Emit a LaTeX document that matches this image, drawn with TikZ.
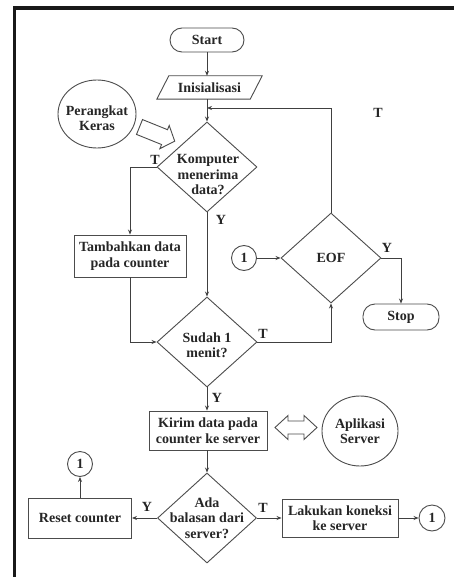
\documentclass[tikz,border=0pt]{standalone}
\usepackage{fontspec}
\setmainfont{Liberation Serif}
\usetikzlibrary{shapes.geometric,arrows.meta,calc}
\begin{document}
\begin{tikzpicture}[x=1pt,y=-1pt,
  every node/.style={font=\bfseries\fontsize{14}{15.5}\selectfont, text=black!85},
  ln/.style={draw=black!75, line width=0.8pt},
  arr/.style={ln,-{Stealth[length=5pt,width=4pt]}},
  shp/.style={draw=black!70, line width=0.9pt},
  box/.style={shp, rectangle, align=center, inner sep=0pt},
  term/.style={shp, rectangle, rounded corners=12pt, inner sep=0pt},
  dia/.style={shp, diamond, inner sep=0pt, minimum width=100pt, minimum height=90pt},
  ell/.style={shp, ellipse, inner sep=0pt},
  conn/.style={shp, circle, inner sep=0pt, minimum size=25pt},
  lbl/.style={inner sep=0pt},
  txt/.style={align=center, inner sep=0pt},
  fat/.style={shp, fill=white}]
\useasboundingbox[fill=white] (0,0) rectangle (454,577);
% frame
\draw[line width=3.5pt, black!90] (454,8) -- (14.5,8) -- (14.5,577);

% nodes
\node[term, minimum width=74pt, minimum height=24pt] (start) at (207,40) {Start};
\node[inner sep=0pt, minimum width=105pt, minimum height=23pt] (init) at (209.5,87.5) {Inisialisasi};
\draw[shp] ($(init.north west)+(12,0)$) -- (init.north east) -- ($(init.south east)+(-12,0)$) -- (init.south west) -- cycle;

\node[ell, minimum width=78pt, minimum height=68pt] (hw) at (97,114) {};
\node[txt] (hwt) at (97,118) {Perangkat\\Keras};

\node[dia] (komp) at (207,167) {};
\node[txt] (kompt) at (208,175) {Komputer\\menerima\\data?};

\node[box, minimum width=112pt, minimum height=42pt] (tamb) at (130,256) {Tambahkan data\\pada counter};

\node[dia] (sudah) at (207,342) {};
\node[txt] (sudaht) at (207,345) {Sudah 1\\menit?};

\node[dia] (eof) at (331,258) {EOF};
\node[conn] (c1) at (244,258) {1};
\node[term, minimum width=76pt, minimum height=26pt] (stop) at (401,317) {Stop};

\node[box, minimum width=118pt, minimum height=39pt] (kirim) at (208,430.5) {Kirim data pada\\counter ke server};
\node[ell, minimum width=76pt, minimum height=70pt] (apl) at (360,431) {};
\node[txt] (aplt) at (360,431) {Aplikasi\\Server};

\node[dia, minimum width=99pt] (ada) at (207,518) {};
\node[txt] (adat) at (207,518) {Ada\\balasan dari\\server?};

\node[box, minimum width=103pt, minimum height=40pt] (reset) at (80,518) {Reset counter};
\node[conn] (c2) at (80,464) {1};
\node[box, minimum width=116pt, minimum height=38pt] (lak) at (340,518) {Lakukan koneksi\\ke server};
\node[conn, minimum size=26pt] (c3) at (432,518) {1};

\coordinate (loopin) at (207,108);

% fat arrows
\begin{scope}[shift={(139.5,127)}, rotate=-22]
  \draw[fat] (0,-8) -- (27,-8) -- (27,-12.5) -- (38,0) -- (27,12.5) -- (27,8) -- (0,8) -- cycle;
\end{scope}
\draw[fat] (275,427.5) -- (288,415.5) -- (288,421) -- (304,421) -- (304,415.5) -- (317,427.5)
  -- (304,439.5) -- (304,434) -- (288,434) -- (288,439.5) -- cycle;

% connectors
\draw[arr] (start.south) -- (start.south |- init.north);
\draw[arr] (init.south -| komp.north) -- (komp.north);
\draw[arr] (eof.north) |- (loopin);
\draw[arr] (komp.west) -| (tamb.north);
\draw[arr] (komp.south) -- (sudah.north);
\draw[arr] (tamb.south) |- (sudah.west);
\draw[arr] (sudah.east) -| (eof.south);
\draw[arr] (c1) -- (eof.west);
\draw[arr] (eof.east) -| (stop.north);
\draw[arr] (sudah.south) -- (sudah.south |- kirim.north);
\draw[arr] (kirim.south -| ada.north) -- (ada.north);
\draw[arr] (ada.west) -- (reset.east);
\draw[arr] (reset.north) -- (c2.south);
\draw[arr] (ada.east) -- (lak.west);
\draw[arr] (lak.east) -- (c3.west);

% labels
\node[lbl] (l1) at (155,160) {T};
\node[lbl] (l2) at (378,113) {T};
\node[lbl] (l3) at (221,220) {Y};
\node[lbl] (l4) at (387,248) {Y};
\node[lbl] (l5) at (263,334) {T};
\node[lbl] (l6) at (217,398) {Y};
\node[lbl] (l7) at (147,507) {Y};
\node[lbl] (l8) at (263,508) {T};
\end{tikzpicture}
\end{document}
